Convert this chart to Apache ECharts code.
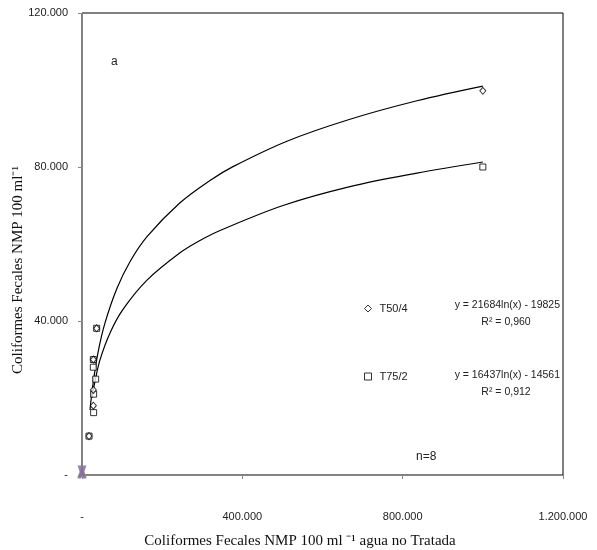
<!DOCTYPE html>
<html>
<head>
<meta charset="utf-8">
<script src="https://cdn.jsdelivr.net/npm/echarts@6/dist/echarts.min.js"></script>
<style>html,body{margin:0;padding:0;background:#fff;}#c{width:597px;height:550px;}</style>
</head>
<body>
<div id="c"></div>
<script>
// ---- data ----
var t50X = [1000000, 36600, 28300, 28300, 28300, 17500];
var t50Y = [99800, 38100, 30000, 22100, 18000, 10100];
var t75X = [1000000, 36600, 28300, 28300, 34100, 29000, 29000, 17500];
var t75Y = [80000, 38100, 30000, 28000, 24900, 21000, 16200, 10100];
// trend curves
var t50CurveX = [20000, 27400, 39900, 57400, 87300, 119700, 162200, 244500, 319300, 376700, 511400, 668600, 835700, 1000000];
var t50CurveY = [16900, 23600, 31800, 39500, 48500, 55400, 61900, 70700, 76500, 80100, 86700, 92400, 97200, 101000];
var t75CurveX = [25000, 32400, 44900, 69900, 102300, 162200, 244500, 294400, 344300, 501500, 668600, 835700, 1000000];
var t75CurveY = [20100, 24300, 29900, 36900, 43000, 50600, 57700, 60900, 63500, 70000, 74900, 78400, 81300];
// extra series at origin
var s3X = [0], s3Y = [800];
var s4X = [0], s4Y = [800];
var xTickValues = [0, 400000, 800000, 1200000];
var xTickLabels = ['-', '400.000', '800.000', '1.200.000'];
var yTickValues = [0, 40000, 80000, 120000];
var yTickLabels = ['-', '40.000', '80.000', '120.000'];
var seriesNames = ['T50/4', 'T75/2'];
var eq50 = 'y = 21684ln(x) - 19825';
var r50 = 'R² = 0,960';
var eq75 = 'y = 16437ln(x) - 14561';
var r75 = 'R² = 0,912';
var xTitle = 'Coliformes Fecales NMP 100 ml \u207B\u00B9 agua no Tratada';
var yTitle = 'Coliformes Fecales NMP 100 ml\u207B\u00B9';

function zip(a, b) { return a.map(function (v, i) { return [v, b[i]]; }); }
function lab(values, labels) {
  return function (v) { var i = values.indexOf(v); return i >= 0 ? labels[i] : ''; };
}
var sans = '"Liberation Sans", Arial, sans-serif';
var serif = '"Liberation Serif", "Times New Roman", serif';
var hollow = { color: '#fff', borderColor: '#000', borderWidth: 1 };

var chart = echarts.init(document.getElementById('c'), null, { renderer: 'canvas' });
chart.setOption({
  animation: false,
  backgroundColor: '#fff',
  grid: { left: 82, right: 34, top: 13, bottom: 75, show: true, borderColor: '#000', borderWidth: 1, backgroundColor: 'transparent' },
  xAxis: {
    type: 'value', min: 0, max: 1200000, interval: 400000,
    axisLine: { show: true, lineStyle: { color: '#868686', width: 1 } },
    axisTick: { show: true, inside: false, length: 4, lineStyle: { color: '#868686' } },
    splitLine: { show: false },
    axisLabel: { margin: 36, color: '#222', fontFamily: sans, fontSize: 11, formatter: lab(xTickValues, xTickLabels) }
  },
  yAxis: {
    type: 'value', min: 0, max: 120000, interval: 40000,
    axisLine: { show: true, lineStyle: { color: '#868686', width: 1 } },
    axisTick: { show: true, inside: false, length: 4, lineStyle: { color: '#868686' } },
    splitLine: { show: false },
    axisLabel: { margin: 14, color: '#222', fontFamily: sans, fontSize: 11, formatter: lab(yTickValues, yTickLabels) }
  },
  legend: {
    orient: 'vertical', left: 359, top: 298, itemGap: 57,
    itemWidth: 7, itemHeight: 7,
    itemStyle: { color: '#fff', borderColor: '#000', borderWidth: 1 },
    textStyle: { fontFamily: sans, fontSize: 11, color: '#222', padding: [0, 0, 0, 3] },
    data: [{ name: seriesNames[0], icon: 'diamond' }, { name: seriesNames[1], icon: 'rect' }]
  },
  series: [
    { type: 'line', name: 'trend50', data: zip(t50CurveX, t50CurveY), smooth: 0.35, showSymbol: false, symbol: 'none',
      lineStyle: { color: '#000', width: 1.2 }, z: 3, silent: true },
    { type: 'line', name: 'trend75', data: zip(t75CurveX, t75CurveY), smooth: 0.35, showSymbol: false, symbol: 'none',
      lineStyle: { color: '#000', width: 1.2 }, z: 3, silent: true },
    { type: 'scatter', name: seriesNames[1], data: zip(t75X, t75Y), symbol: 'rect', symbolSize: 6, itemStyle: hollow, z: 4 },
    { type: 'scatter', name: seriesNames[0], data: zip(t50X, t50Y), symbol: 'diamond', symbolSize: [6, 7], itemStyle: hollow, z: 5 },
    { type: 'scatter', name: 's3', data: zip(s3X, s3Y), symbol: 'triangle', symbolSize: [10, 11], itemStyle: { color: '#9BBB59' }, z: 6, clip: false },
    { type: 'scatter', name: 's4', data: zip(s4X, s4Y), symbol: 'path://M0,0 L4,0 L5,3 L6,0 L10,0 L7.5,7 L10,14 L6,14 L5,11 L4,14 L0,14 L2.5,7 Z',
      symbolSize: [9, 13], itemStyle: { color: '#8064A2' }, z: 7, clip: false }
  ],
  graphic: [
    { type: 'text', left: 111, top: 56, style: { text: 'a', font: '12px ' + sans, fill: '#222' } },
    { type: 'text', left: 416, top: 451, style: { text: 'n=8', font: '12px ' + sans, fill: '#222' } },
    { type: 'text', x: 560, y: 305, style: { text: eq50, font: '10.5px ' + sans, fill: '#222', align: 'right', verticalAlign: 'middle' } },
    { type: 'text', x: 506, y: 322, style: { text: r50, font: '10.5px ' + sans, fill: '#222', align: 'center', verticalAlign: 'middle' } },
    { type: 'text', x: 560, y: 375, style: { text: eq75, font: '10.5px ' + sans, fill: '#222', align: 'right', verticalAlign: 'middle' } },
    { type: 'text', x: 506, y: 392, style: { text: r75, font: '10.5px ' + sans, fill: '#222', align: 'center', verticalAlign: 'middle' } },
    { type: 'text', x: 300, y: 541, style: { text: xTitle, font: '15px ' + serif, fill: '#111', align: 'center', verticalAlign: 'middle' } },
    { type: 'text', x: 18, y: 270, rotation: Math.PI / 2, style: { text: yTitle, font: '15px ' + serif, fill: '#111', align: 'center', verticalAlign: 'middle' } }
  ]
});
</script>
</body>
</html>
